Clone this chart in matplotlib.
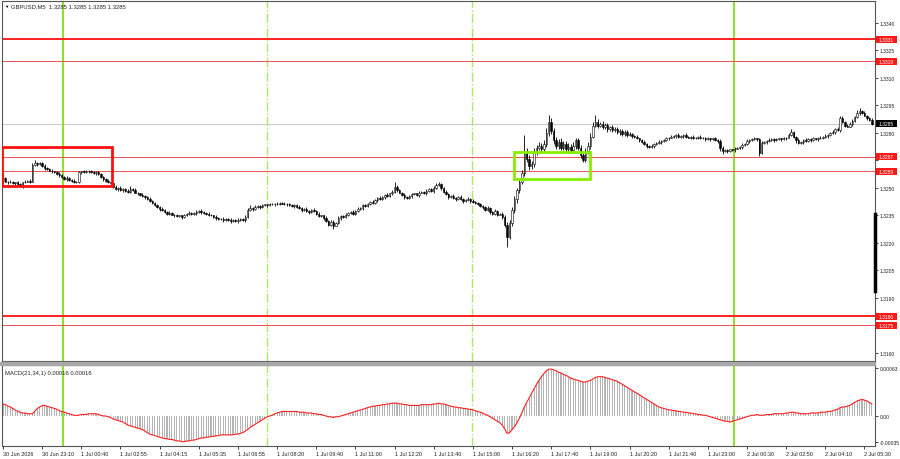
import matplotlib
matplotlib.use('Agg')
import matplotlib.pyplot as plt
from matplotlib.patches import Rectangle
import numpy as np

plt.rcParams['font.family'] = ['Liberation Sans', 'DejaVu Sans']

# GBPUSD M5 closes, in pips above 1.3200 (16 bars per row = one date label)
close_pips = [
    55.5, 53.5, 53.0, 53.5, 52.5, 53.0, 52.0, 51.0, 53.0, 53.5, 54.0, 53.5, 62.5, 63.5, 63.0, 63.5,
    62.0, 61.0, 60.5, 59.5, 59.0, 58.5, 57.5, 57.0, 56.0, 55.0, 55.5, 54.5, 54.0, 53.5, 53.0, 58.5,
    59.0, 58.5, 59.5, 59.0, 58.5, 58.0, 58.5, 57.5, 56.0, 55.0, 54.0, 53.0, 52.5, 50.5, 49.5, 50.0,
    49.0, 49.5, 48.5, 48.0, 49.5, 49.0, 47.5, 47.0, 46.0, 45.5, 45.0, 44.0, 43.0, 42.0, 40.5, 39.5,
    38.5, 38.0, 37.0, 36.0, 36.5, 35.5, 35.0, 34.5, 35.0, 34.0, 35.0, 36.0, 36.5, 36.0, 36.5, 37.0,
    37.5, 37.0, 36.5, 36.0, 35.5, 35.0, 34.0, 33.5, 33.0, 33.0, 32.5, 33.0, 32.5, 32.0, 32.5, 32.0,
    32.5, 33.0, 32.5, 34.0, 38.0, 39.0, 38.5, 39.5, 40.0, 39.5, 40.5, 41.0, 40.5, 41.0, 41.5, 41.0,
    41.5, 42.0, 41.5, 41.0, 41.5, 40.5, 40.0, 40.5, 39.5, 39.0, 38.0, 38.5, 37.5, 37.0, 38.0, 37.5,
    36.0, 34.5, 35.0, 33.5, 32.0, 30.0, 31.5, 29.5, 31.0, 33.5, 34.5, 34.0, 35.5, 36.5, 37.0, 36.0,
    37.5, 38.5, 39.0, 40.5, 40.0, 41.5, 42.5, 42.0, 43.5, 44.5, 44.0, 45.0, 46.0, 45.5, 47.0, 48.0,
    50.5, 49.0, 47.5, 46.0, 45.0, 44.5, 45.5, 46.5, 47.0, 46.0, 47.5, 48.0, 47.0, 48.5, 49.5, 48.5,
    50.0, 51.5, 52.0, 50.0, 48.0, 46.5, 45.0, 45.5, 44.5, 44.0, 45.0, 44.0, 43.0, 43.5, 44.0, 43.0,
    42.5, 42.0, 41.0, 40.0, 39.5, 38.0, 39.0, 37.0, 36.0, 37.5, 35.5, 36.0, 34.0, 30.0, 23.5, 31.0,
    38.0, 44.0, 49.0, 53.0, 58.0, 70.0, 66.0, 62.0, 63.0, 70.0, 72.0, 73.0, 71.0, 74.0, 80.0, 86.0,
    81.0, 76.0, 73.0, 75.0, 72.0, 74.0, 71.0, 72.5, 70.5, 73.0, 76.0, 72.0, 68.0, 65.5, 70.0, 73.0,
    78.0, 84.0, 86.0, 84.0, 85.0, 83.0, 84.5, 82.0, 83.0, 81.5, 82.0, 80.5, 81.0, 79.5, 80.5, 79.0,
    79.5, 78.5, 78.0, 77.0, 76.0, 75.0, 74.0, 73.0, 72.5, 73.0, 74.0, 74.5, 75.0, 75.5, 76.0, 77.0,
    77.5, 78.0, 78.5, 79.0, 78.0, 78.5, 79.0, 78.0, 77.5, 78.0, 77.0, 77.5, 78.0, 77.0, 77.5, 76.5,
    77.0, 76.5, 77.0, 76.0, 75.5, 72.0, 70.0, 70.5, 70.0, 71.0, 70.5, 71.5, 72.0, 72.5, 73.5, 74.0,
    75.5, 76.0, 76.5, 77.0, 76.5, 69.0, 74.5, 75.0, 75.5, 76.0, 76.5, 76.0, 76.5, 77.0, 76.5, 77.0,
    77.5, 79.0, 80.5, 78.0, 76.0, 74.5, 75.0, 76.0, 75.5, 76.5, 76.0, 77.0, 76.5, 77.5, 77.0, 78.0,
    78.5, 79.0, 80.0, 80.5, 82.0, 81.5, 88.0, 86.0, 84.0, 83.5, 85.0, 86.5, 88.5, 91.0, 92.0, 91.0,
    89.5, 88.0, 87.0, 85.0,
]
first_open = 54.0

# upper / lower wick beyond the body, pips
wick_up = [
    2.5, 0.5, 0.5, 1.0, 0.5, 0.5, 1.0, 0.5, 0.5, 1.0, 0.5, 1.0, 1.0, 1.5, 0.5, 0.5,
    0.5, 1.0, 0.5, 0.5, 1.0, 0.5, 0.5, 1.0, 0.5, 0.5, 1.0, 0.5, 0.5, 1.0, 0.5, 1.0,
    0.5, 1.0, 0.5, 0.5, 1.0, 0.5, 0.5, 1.0, 0.5, 0.5, 0.5, 1.0, 0.5, 0.5, 1.0, 0.5,
    1.0, 0.5, 0.5, 1.0, 1.5, 0.5, 1.0, 0.5, 0.5, 1.0, 0.5, 0.5, 1.0, 0.5, 0.5, 1.0,
    0.5, 1.0, 0.5, 0.5, 1.0, 0.5, 0.5, 1.0, 0.5, 0.5, 1.0, 0.5, 1.0, 0.5, 0.5, 1.0,
    0.5, 1.0, 0.5, 0.5, 1.0, 0.5, 0.5, 1.0, 0.5, 0.5, 1.0, 0.5, 0.5, 1.0, 0.5, 0.5,
    1.0, 0.5, 0.5, 1.0, 1.0, 1.5, 0.5, 1.0, 0.5, 0.5, 1.0, 0.5, 0.5, 1.0, 0.5, 0.5,
    1.0, 0.5, 0.5, 1.0, 0.5, 0.5, 1.0, 0.5, 0.5, 1.0, 0.5, 0.5, 1.0, 0.5, 0.5, 1.0,
    0.5, 1.0, 0.5, 0.5, 1.0, 0.5, 1.0, 1.0, 0.5, 1.0, 0.5, 0.5, 1.0, 0.5, 0.5, 1.0,
    0.5, 1.0, 0.5, 0.5, 1.0, 0.5, 0.5, 1.0, 0.5, 0.5, 1.0, 0.5, 0.5, 1.0, 0.5, 1.0,
    2.5, 1.0, 0.5, 0.5, 1.0, 0.5, 0.5, 1.0, 0.5, 0.5, 1.0, 0.5, 0.5, 1.0, 0.5, 0.5,
    1.0, 1.0, 1.5, 0.5, 0.5, 1.0, 0.5, 0.5, 1.0, 0.5, 0.5, 1.0, 0.5, 0.5, 1.0, 0.5,
    1.0, 0.5, 0.5, 1.0, 0.5, 0.5, 1.0, 0.5, 0.5, 1.0, 0.5, 0.5, 1.0, 1.0, 1.5, 1.5,
    1.5, 1.5, 1.0, 1.5, 2.0, 9.0, 2.0, 2.0, 1.5, 2.0, 1.5, 2.0, 1.5, 2.0, 2.5, 4.0,
    2.0, 1.5, 2.0, 1.5, 2.0, 1.5, 1.5, 2.0, 1.5, 2.0, 1.5, 1.5, 1.5, 1.5, 2.0, 2.0,
    2.0, 2.0, 4.0, 1.5, 1.0, 1.5, 1.0, 1.0, 1.0, 1.5, 1.0, 1.0, 1.0, 1.0, 1.0, 1.0,
    1.0, 0.5, 0.5, 1.0, 0.5, 0.5, 1.0, 0.5, 0.5, 1.0, 0.5, 0.5, 1.0, 0.5, 0.5, 1.0,
    0.5, 1.0, 0.5, 0.5, 1.0, 0.5, 0.5, 1.0, 0.5, 0.5, 1.0, 0.5, 0.5, 1.0, 0.5, 0.5,
    1.0, 0.5, 0.5, 1.0, 0.5, 1.0, 1.0, 0.5, 1.0, 0.5, 0.5, 1.0, 0.5, 0.5, 1.0, 0.5,
    1.0, 0.5, 0.5, 1.0, 0.5, 1.0, 1.0, 0.5, 0.5, 1.0, 0.5, 0.5, 1.0, 0.5, 0.5, 1.0,
    0.5, 1.0, 1.5, 0.5, 0.5, 1.0, 0.5, 0.5, 1.0, 0.5, 0.5, 1.0, 0.5, 0.5, 1.0, 0.5,
    1.0, 0.5, 0.5, 1.0, 0.5, 1.0, 1.0, 1.5, 0.5, 1.0, 1.0, 1.0, 1.0, 1.5, 1.5, 0.5,
    1.0, 0.5, 0.5, 1.0,
]
wick_dn = [
    1.5, 0.5, 1.0, 0.5, 0.5, 1.0, 0.5, 0.5, 1.0, 0.5, 0.5, 1.0, 0.5, 0.5, 1.0, 0.5,
    0.5, 1.0, 0.5, 0.5, 1.0, 0.5, 0.5, 1.0, 0.5, 0.5, 1.0, 0.5, 0.5, 1.0, 0.5, 0.5,
    1.0, 0.5, 0.5, 1.0, 0.5, 0.5, 1.0, 0.5, 0.5, 1.0, 0.5, 0.5, 1.0, 0.5, 0.5, 1.0,
    0.5, 1.0, 0.5, 0.5, 1.0, 0.5, 0.5, 1.0, 0.5, 0.5, 1.0, 0.5, 0.5, 1.0, 0.5, 0.5,
    1.0, 0.5, 0.5, 1.0, 0.5, 0.5, 1.0, 0.5, 0.5, 1.0, 0.5, 0.5, 1.0, 0.5, 0.5, 1.0,
    0.5, 1.0, 0.5, 0.5, 1.0, 0.5, 0.5, 1.0, 0.5, 0.5, 1.0, 0.5, 0.5, 1.0, 0.5, 0.5,
    1.0, 0.5, 0.5, 1.0, 0.5, 0.5, 1.0, 0.5, 0.5, 1.0, 0.5, 0.5, 1.0, 0.5, 0.5, 1.0,
    0.5, 1.0, 0.5, 0.5, 1.0, 0.5, 0.5, 1.0, 0.5, 0.5, 1.0, 0.5, 0.5, 1.0, 0.5, 0.5,
    1.0, 0.5, 0.5, 1.0, 0.5, 1.0, 0.5, 2.0, 0.5, 0.5, 1.0, 0.5, 0.5, 1.0, 0.5, 0.5,
    1.0, 0.5, 0.5, 1.0, 0.5, 0.5, 1.0, 0.5, 0.5, 1.0, 0.5, 0.5, 1.0, 0.5, 0.5, 1.0,
    0.5, 1.0, 0.5, 0.5, 1.0, 0.5, 0.5, 1.0, 0.5, 0.5, 1.0, 0.5, 0.5, 1.0, 0.5, 0.5,
    1.0, 0.5, 0.5, 1.0, 0.5, 0.5, 1.0, 0.5, 0.5, 1.0, 0.5, 0.5, 1.0, 0.5, 0.5, 1.0,
    0.5, 1.0, 0.5, 0.5, 1.0, 0.5, 0.5, 1.0, 0.5, 0.5, 1.0, 0.5, 1.0, 1.5, 5.5, 1.5,
    1.5, 1.5, 2.0, 1.5, 1.0, 1.5, 2.0, 2.0, 1.5, 1.5, 2.0, 1.5, 2.0, 1.5, 1.5, 1.5,
    1.5, 2.0, 1.5, 2.0, 1.5, 1.5, 2.0, 1.5, 1.5, 1.5, 2.0, 1.5, 1.5, 1.5, 1.5, 1.5,
    1.5, 1.0, 1.0, 1.5, 1.0, 1.0, 1.0, 1.5, 1.0, 1.0, 1.0, 1.0, 1.5, 1.0, 1.0, 1.0,
    0.5, 1.0, 0.5, 0.5, 1.0, 0.5, 0.5, 1.0, 0.5, 0.5, 1.0, 0.5, 0.5, 1.0, 0.5, 0.5,
    1.0, 0.5, 0.5, 1.0, 0.5, 0.5, 1.0, 0.5, 0.5, 1.0, 0.5, 0.5, 1.0, 0.5, 0.5, 1.0,
    0.5, 1.0, 0.5, 0.5, 1.0, 2.0, 1.5, 0.5, 1.0, 0.5, 0.5, 1.0, 0.5, 0.5, 1.0, 0.5,
    0.5, 1.0, 0.5, 0.5, 1.0, 1.5, 0.5, 0.5, 1.0, 0.5, 0.5, 1.0, 0.5, 0.5, 1.0, 0.5,
    1.0, 0.5, 0.5, 1.0, 1.5, 0.5, 0.5, 1.0, 0.5, 0.5, 1.0, 0.5, 0.5, 1.0, 0.5, 0.5,
    0.5, 1.0, 0.5, 0.5, 1.0, 0.5, 1.0, 0.5, 1.0, 0.5, 0.5, 1.0, 0.5, 0.5, 1.0, 0.5,
    0.5, 1.0, 0.5, 0.5,
]

# MACD(21,34,1) main line, in 1e-5
macd_pts = [
    16, 15, 13, 12, 10, 8, 6, 5, 4, 4, 3, 3, 3, 6, 10, 12,
    14, 14, 13, 12, 11, 10, 9, 7, 6, 5, 4, 3, 2, 1, 1, 1,
    2, 2, 2, 3, 3, 3, 3, 2, 1, 0, 0, -1, -2, -4, -5, -6,
    -7, -8, -10, -12, -13, -14, -15, -16, -17, -18, -20, -22, -24, -25, -26, -27,
    -28, -29, -30, -30, -31, -31, -32, -33, -33, -34, -34, -33, -33, -32, -32, -31,
    -30, -29, -29, -28, -28, -27, -27, -26, -26, -25, -25, -25, -25, -25, -25, -24,
    -24, -23, -22, -20, -18, -15, -13, -11, -9, -7, -5, -3, -1, 0, 1, 3,
    4, 5, 6, 6, 6, 6, 6, 6, 6, 5, 5, 5, 4, 4, 4, 3,
    3, 2, 2, 1, 0, -1, -1, -2, -1, -1, 0, 1, 2, 3, 4, 5,
    6, 7, 8, 9, 10, 11, 12, 13, 13, 14, 14, 15, 15, 16, 16, 17,
    17, 17, 16, 16, 15, 15, 14, 14, 14, 14, 14, 15, 15, 15, 15, 15,
    16, 16, 17, 16, 16, 15, 14, 13, 12, 12, 11, 11, 10, 10, 9, 9,
    8, 7, 6, 5, 4, 2, 1, -1, -3, -5, -7, -9, -12, -17, -23, -22,
    -18, -14, -9, -3, 4, 12, 18, 24, 30, 36, 42, 47, 52, 56, 60, 62,
    62, 61, 60, 58, 57, 55, 54, 52, 50, 49, 48, 47, 46, 45, 45, 46,
    47, 49, 51, 52, 52, 52, 51, 50, 49, 48, 47, 46, 44, 42, 40, 38,
    36, 34, 32, 30, 28, 26, 24, 22, 20, 18, 16, 14, 12, 11, 10, 9,
    8, 8, 7, 7, 6, 6, 5, 5, 4, 4, 3, 3, 2, 2, 1, 1,
    0, -1, -2, -3, -4, -5, -6, -7, -7, -8, -7, -6, -5, -4, -3, -2,
    -1, 0, 1, 1, 2, 1, 1, 1, 2, 2, 2, 3, 3, 3, 3, 3,
    4, 4, 5, 5, 4, 4, 3, 3, 3, 3, 4, 4, 4, 4, 5, 5,
    5, 6, 6, 7, 8, 9, 11, 12, 12, 13, 14, 16, 18, 20, 21, 22,
    21, 20, 18, 16,
]

date_labels = ['30 Jun 2026', '30 Jun 23:10', '1 Jul 00:40', '1 Jul 02:55', '1 Jul 04:15',
               '1 Jul 05:35', '1 Jul 06:55', '1 Jul 08:20', '1 Jul 09:40', '1 Jul 11:00',
               '1 Jul 12:20', '1 Jul 13:40', '1 Jul 15:00', '1 Jul 16:20', '1 Jul 17:40',
               '1 Jul 19:00', '1 Jul 20:20', '1 Jul 21:40', '1 Jul 23:00', '2 Jul 00:30',
               '2 Jul 02:50', '2 Jul 04:10', '2 Jul 05:30']
label_step = 16

levels_thick = [1.3331, 1.3180]
levels_thin = [1.3319, 1.3267, 1.3259, 1.3175]
last_price = 1.3285

day_lines = [24.5, 298.8]        # solid green (day opens)
session_lines = [107.8, 191.8]   # dash-dot green
red_box = (-0.4, 44.5, 1.32511, 1.32724)
green_box = (209.0, 240.0, 1.32549, 1.32696)

macd_ticks = [0.00063, 0.0, -0.00035]
macd_ticklabels = ['0.00063', '0.00', '-0.00035']

# ---------------------------------------------------------------
close = 1.32 + np.array(close_pips) / 10000
opens = np.concatenate([[1.32 + first_open / 10000], close[:-1]])
top = np.maximum(opens, close)
bot = np.minimum(opens, close)
high = top + np.array(wick_up) / 10000
low = bot - np.array(wick_dn) / 10000
macd = np.array(macd_pts) * 1e-5
x = np.arange(len(close))

W, H = 900, 460
fig = plt.figure(figsize=(9, 4.6), dpi=100)
ax = fig.add_axes([2 / W, 1 - 362 / H, 873 / W, 360 / H])
ax2 = fig.add_axes([2 / W, 1 - 447 / H, 873 / W, 81 / H])

fs_price = 3.6   # right scale
fs_date = 4.0    # bottom scale
fs_title = 4.2
green = '#77dd00'
light_green = '#aae866'

# price panel
ax.vlines(x, low, high, color='black', lw=0.6, zorder=3)
bull = close >= opens
body_h = np.maximum(top - bot, 0.00002)
ax.bar(x[bull], body_h[bull], bottom=bot[bull], width=0.6, color='white',
       edgecolor='black', lw=0.4, zorder=4)
ax.bar(x[~bull], body_h[~bull], bottom=bot[~bull], width=0.6, color='black',
       edgecolor='black', lw=0.4, zorder=4)

for lv in levels_thick:
    ax.axhline(lv, color='#ff2020', lw=1.4, zorder=2)
for lv in levels_thin:
    ax.axhline(lv, color='#f05050', lw=0.7, zorder=2)
ax.axhline(last_price, color='#c8c8c8', lw=0.7, zorder=1)

for a in (ax, ax2):
    for v in day_lines:
        a.axvline(v, color=green, lw=1.2, zorder=1)
    for v in session_lines:
        a.axvline(v, color=light_green, lw=1.0, ls='-.', zorder=1)

x0, x1, y0, y1 = red_box
ax.add_patch(Rectangle((x0, y0), x1 - x0, y1 - y0, fill=False, ec='#ff1010', lw=2, zorder=5))
x0, x1, y0, y1 = green_box
ax.add_patch(Rectangle((x0, y0), x1 - x0, y1 - y0, fill=False, ec='#88ee00', lw=2, zorder=5))

ax.set_xlim(-0.4, 356.3)
ax.set_ylim(1.31556, 1.33520)
ax.set_xticks([])
ax.yaxis.tick_right()
yt = np.arange(1.3160, 1.3341, 0.0015)
ax.set_yticks(yt)
# labels hidden where a level tag sits on top of them
covered = ['1.3265', '1.3175']
ax.set_yticklabels(['' if '%.4f' % v in covered else '%.4f' % v for v in yt])
ax.tick_params(axis='y', labelsize=fs_price, length=2, pad=1.2, width=0.6, colors='#222222')

# price tags on the scale
ytr = ax.get_yaxis_transform()
tag_h = 0.00019
for lv, fc in [(v, '#ff1a1a') for v in levels_thick + levels_thin] + [(last_price, 'black')]:
    ax.add_patch(Rectangle((1.0012, lv - tag_h), 0.0245, 2 * tag_h, transform=ytr,
                           fc=fc, ec='none', clip_on=False, zorder=9))
    ax.text(1.0045, lv, '%.4f' % lv, transform=ytr, fontsize=fs_price, color='white',
            va='center', ha='left', zorder=10, clip_on=False)
# scroll marker on the price scale
ax.plot([1.0, 1.0], [1.31938, 1.32358], transform=ytr,
        color='black', lw=2.5, clip_on=False, zorder=9)

# MACD panel
ax2.bar(x, macd, width=0.45, color='#b4b4b4', zorder=2)
ax2.plot(x, macd, color='#ff2020', lw=0.8, zorder=3)
ax2.set_xlim(-0.4, 356.3)
ax2.set_ylim(-0.000397, 0.000675)
ax2.yaxis.tick_right()
ax2.set_yticks(macd_ticks)
ax2.set_yticklabels(macd_ticklabels)
ax2.set_xticks(np.arange(len(date_labels)) * label_step)
ax2.set_xticklabels(date_labels, ha='left')
ax2.tick_params(axis='y', labelsize=fs_price, length=2, pad=1.2, width=0.6, colors='#222222')
ax2.tick_params(axis='x', labelsize=fs_date, length=2, pad=1.5, width=0.6, colors='#222222')

for a in (ax, ax2):
    for s in a.spines.values():
        s.set_color('#555555')
        s.set_linewidth(0.8)

# panel separator
fig.patches.append(Rectangle((0, 1 - 366 / H), 875 / W, 3.5 / H, transform=fig.transFigure,
                             color='#a8a8a8', zorder=5))

fig.text(4 / W, 1 - 7 / H, '\u25bc', fontsize=3.2, va='center', ha='left')
fig.text(11 / W, 1 - 7 / H, 'GBPUSD,M5  1.3285 1.3285 1.3285 1.3285', fontsize=fs_title,
         va='center', ha='left', color='#222222')
ax2.text(0.003, 0.94, 'MACD(21,34,1) 0.00016 0.00016', transform=ax2.transAxes,
         fontsize=fs_title, va='top', ha='left', color='#222222')

fig.savefig('out.png', dpi=100)
